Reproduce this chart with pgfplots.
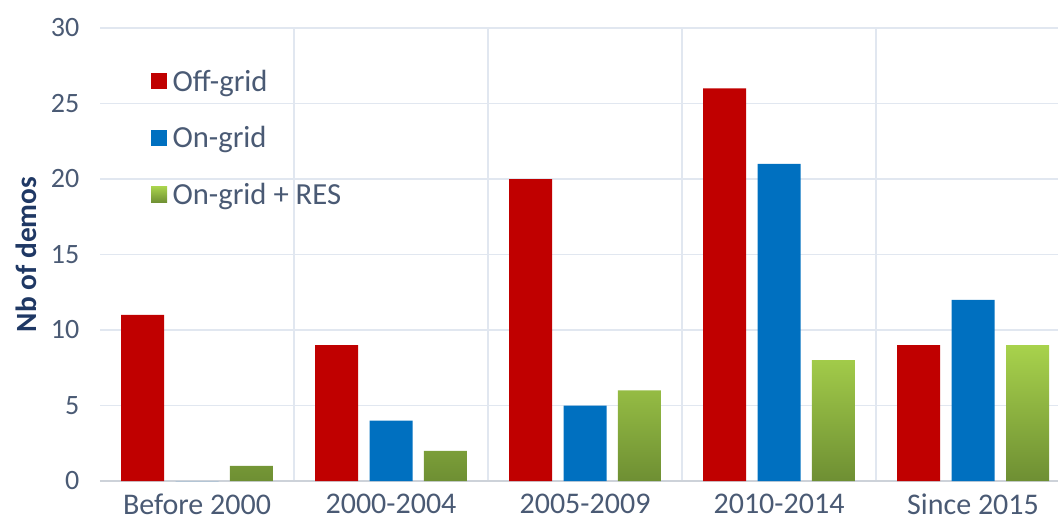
\documentclass[border=0pt]{standalone}
\usepackage{pgfplots}
\pgfplotsset{compat=1.18}
\usepackage{fontspec}
\setmainfont{Carlito}

\definecolor{offgrid}{HTML}{C00000}
\definecolor{ongrid}{HTML}{0070C0}
\definecolor{restop}{HTML}{A8D24C}
\definecolor{resbot}{HTML}{6E8F33}
\definecolor{gridc}{HTML}{E1E7F0}
\definecolor{tickc}{HTML}{4A5A74}
\definecolor{labc}{HTML}{1F3864}

\begin{document}
\begin{tikzpicture}
\useasboundingbox (0,0) rectangle (793.5pt,391.5pt);
\begin{axis}[
    at={(75pt,30.75pt)}, anchor=south west,
    scale only axis,
    width=718.5pt, height=339.75pt,
    ybar=8.6pt, bar width=32.25pt,
    xmin=-0.5, xmax=4.438,
    ymin=0, ymax=30,
    ytick={0,5,...,30},
    xtick={0,1,2,3,4},
    xticklabels={Before 2000,2000-2004,2005-2009,2010-2014,Since 2015},
    minor xtick={0.5,1.5,2.5,3.5},
    xmajorgrids=false, xminorgrids=true, ymajorgrids=true,
    grid style={gridc, line width=0.8pt},
    minor grid style={gridc, line width=0.8pt},
    axis x line*=bottom, axis y line*=left,
    x axis line style={draw=gridc!80!gray, line width=0.8pt, -},
    y axis line style={draw=none},
    major tick length=0pt, minor tick length=0pt,
    tick style={draw=none},
    yticklabel style={font=\fontsize{21}{23}\selectfont, text=tickc, xshift=-12pt},
    xticklabel style={font=\fontsize{22.5}{24}\selectfont, text=tickc, yshift=-6pt},
    /pgf/number format/assume math mode=true,
    ylabel={\textbf{Nb of demos}},
    ylabel style={font=\fontsize{22}{24}\selectfont, text=labc, at={(axis description cs:-0.077,0.5)}, anchor=center},
    legend style={draw=none, fill=none, at={(axis description cs:0.049,0.92)}, anchor=north west,
        font=\fontsize{23}{25}\selectfont, text=tickc, row sep=21pt,
        /tikz/every odd column/.append style={column sep=2pt}},
    legend cell align=left,
    legend image code/.code={\path[#1, draw=none] (0pt,-6pt) rectangle (12pt,6pt);},
]
\addplot[draw=none, fill=offgrid] coordinates {(0,11) (1,9) (2,20) (3,26) (4,9)};
\addplot[draw=none, fill=ongrid] coordinates {(0,0) (1,4) (2,5) (3,21) (4,12)};
\addplot[draw=none, top color=restop, bottom color=resbot] coordinates {(0,1) (1,2) (2,6) (3,8) (4,9)};
\legend{Off-grid, On-grid, On-grid + RES}
\end{axis}
\end{tikzpicture}
\end{document}
